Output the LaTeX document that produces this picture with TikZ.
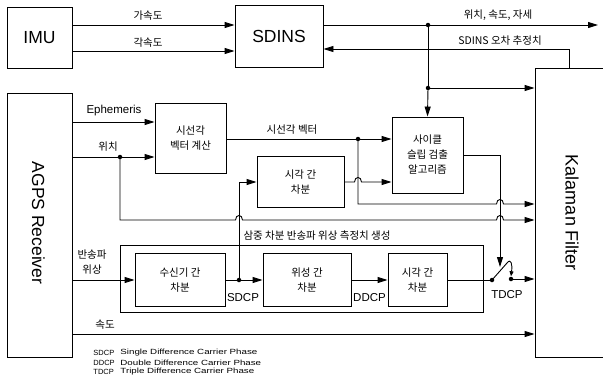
\documentclass[tikz,border=0pt]{standalone}
\usepackage{fontspec}
\usepackage{graphicx}
\setmainfont{Liberation Sans}
\newfontfamily\kr{Noto Sans CJK KR}
\usetikzlibrary{arrows.meta,calc}
\begin{document}
\begin{tikzpicture}[x=1pt,y=-1pt,
  line width=0.9pt,
  box/.style={draw, line width=0.9pt, inner sep=0pt, align=center, font=\kr\fontsize{10.5}{15}\selectfont},
  arr/.style={-{Triangle[length=10pt,width=6pt]}},
  sarr/.style={-{Triangle[length=5pt,width=4pt]}},
  dot/.style={circle, fill, inner sep=0pt, minimum size=4.5pt},
  lbl/.style={font=\kr\fontsize{10.5}{15}\selectfont, inner sep=0pt, align=center},
  elbl/.style={font=\fontsize{11.5}{13}\selectfont, inner sep=0pt},
  bigf/.style={font=\fontsize{17.5}{20}\selectfont},
  leg/.style={font=\fontsize{7.5}{8}\selectfont, inner sep=0pt, anchor=west}]
\useasboundingbox (0,0) rectangle (603,380);

% main boxes
\node[box, bigf, minimum width=65pt, minimum height=61pt] (imu) at (39.5,37.5) {IMU};
\node[box, bigf, minimum width=88pt, minimum height=62pt] (sdins) at (279,36) {SDINS};
\node[box, minimum width=65pt, minimum height=264pt] (agps) at (39.5,225) {};
\node[bigf, rotate=-90, inner sep=0pt] (agpst) at (38.5,223) {AGPS Receiver};
\node[box, minimum width=76pt, minimum height=289pt] (kf) at (573,212.5) {};
\node[font=\fontsize{18}{20}\selectfont, rotate=-90, inner sep=0pt] (kft) at (572,213) {Kalaman Filter};

\node[box, minimum width=71pt, minimum height=70pt] (los) at (190.5,138) {시선각\\벡터 계산};
\node[box, minimum width=87pt, minimum height=51pt] (tdu) at (300.5,182) {시각 간\\차분};
\node[box, minimum width=71pt, minimum height=76pt] (cs) at (427.5,155) {사이클\\슬립 검출\\알고리즘};

\node[box, minimum width=363pt, minimum height=67pt] (grp) at (301.5,278.5) {};
\node[lbl] (grpl) at (317,236) {삼중 차분 반송파 위상 측정치 생성};
\node[box, minimum width=90pt, minimum height=53pt] (rx) at (180,280) {수신기 간\\차분};
\node[box, minimum width=88pt, minimum height=53pt] (sv) at (307,280) {위성 간\\차분};
\node[box, minimum width=59pt, minimum height=53pt] (td) at (417.5,280) {시각 간\\차분};

% junctions
\coordinate (out) at (598,25);
\node[dot] (j1) at (428,25) {};
\node[dot] (j2) at (428,88) {};
\coordinate (fb) at (569,49);
\node[dot] (jp) at (120,157) {};
\node[dot] (j3) at (358,139) {};
\node[dot] (j4) at (239,280) {};
\node[dot] (s1) at (492,280) {};
\node[dot] (s2) at (511,279) {};
\coordinate (sw) at (507,263);

% IMU -> SDINS
\draw[arr] (imu.east |- 0,25) -- (sdins.west |- 0,25);
\draw[arr] (imu.east |- 0,51) -- (sdins.west |- 0,51);
\node[lbl] at (148,16) {가속도};
\node[lbl] at (148,43) {각속도};

% SDINS outputs
\draw[arr] (sdins.east |- 0,25) -- (out);
\node[lbl] at (498,15) {위치, 속도, 자세};
\draw[arr] (kf.north -| fb) -- (fb) -- (sdins.east |- fb);
\node[lbl] at (500,41) {SDINS 오차 추정치};
\draw (j1.center) -- (j2.center);
\draw[arr] (j2.center) -- (kf.west |- j2);
\draw[arr] (j2.center) -- (cs.north);

% AGPS -> LOS
\draw[arr] (agps.east |- 0,122) -- (los.west |- 0,122);
\node[elbl] at (114,111) {Ephemeris};
\draw[arr] (agps.east |- jp) -- (los.west |- jp);
\node[lbl] at (108,147) {위치};
% position to Kalman with hops
\draw[arr] (jp.center) -- (120,220) -- (235.5,220) .. controls (235.5,214) and (242.5,214) .. (242.5,220)
  -- (496.5,220) .. controls (496.5,214) and (503.5,214) .. (503.5,220) -- (kf.west |- 0,220);

% LOS vector
\draw[arr] (los.east |- j3) -- (cs.west |- j3);
\node[lbl] at (292,130) {시선각 벡터};
\draw[arr] (j3.center) -- (358,204) -- (496.5,204) .. controls (496.5,198) and (503.5,198) .. (503.5,204) -- (kf.west |- 0,204);

% time difference (upper) -> cycle slip
\draw[arr] (tdu.east) -- (354.5,182) .. controls (354.5,176) and (361.5,176) .. (361.5,182) -- (cs.west |- tdu.east);
\draw[arr] (j4.center) -- (239,182) -- (tdu.west);

% cycle slip -> switch
\draw[arr] (cs.east) -- (500,155) -- (500,267);

% carrier phase chain
\draw[arr] (agps.east |- rx) -- (rx.west);
\node[lbl] at (92,262) {반송파\\위상};
\draw[arr] (rx.east) -- (sv.west);
\node[elbl] at (243,298) {SDCP};
\draw[arr] (sv.east) -- (td.west);
\node[elbl] at (369.5,298) {DDCP};
\draw (td.east) -- (s1.center);
\draw (s1.center) -- (sw);
\draw[sarr] (sw) .. controls (511,258) and (512.5,264) .. (s2.north);
\draw[arr] (s2.center) -- (kf.west |- s2);
\node[elbl] at (507,295) {TDCP};

% velocity
\draw[arr] (agps.east |- 0,334) -- (kf.west |- 0,334);
\node[lbl] at (105,325) {속도};

% legend
\node[leg] (l1) at (93,353) {SDCP};
\node[leg] (l1d) at (120,353) {\scalebox{1.3}[1]{Single Difference Carrier Phase}};
\node[leg] (l2) at (93,363) {DDCP};
\node[leg] (l2d) at (120,363) {\scalebox{1.3}[1]{Double Difference Carrier Phase}};
\node[leg] (l3) at (93,372) {TDCP};
\node[leg] (l3d) at (120,372) {\scalebox{1.3}[1]{Triple Difference Carrier Phase}};
\end{tikzpicture}
\end{document}
